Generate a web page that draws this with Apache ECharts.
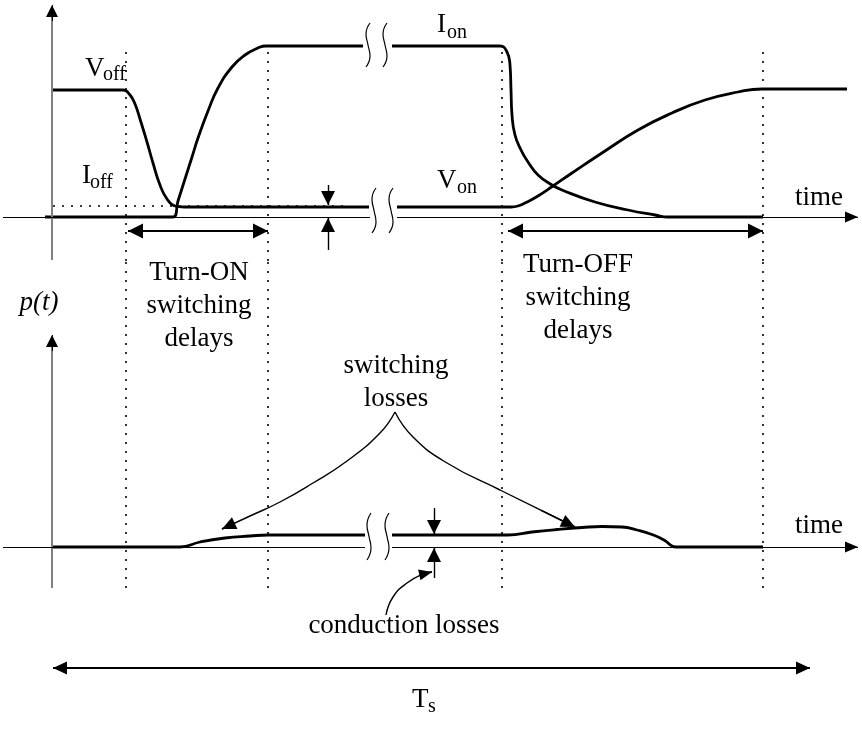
<!DOCTYPE html>
<html>
<head>
<meta charset="utf-8">
<title>Switching and conduction losses</title>
<script src="https://cdn.jsdelivr.net/npm/echarts@6/dist/echarts.min.js"></script>
<style>
html, body { margin: 0; padding: 0; background: #fff; }
#chart { width: 862px; height: 740px; }
</style>
</head>
<body>
<div id="chart"></div>
<script>
// time axis in arbitrary units, signals in arbitrary units
// switch voltage v(t), split at the time-axis break
var vSeg1 = [[0.1, 12.7], [7.1, 12.7], [7.8, 12.2], [8.3, 11.3], [8.8, 9.8], [9.5, 7.5], [10.1, 5.4], [10.8, 3.2], [11.5, 1.8], [12.3, 1.1], [13.2, 1.0], [31.7, 1.0]];
var vSeg2 = [[34.5, 1.0], [45.9, 1.0], [46.6, 1.1], [47.4, 1.45], [48.6, 2.1], [50.1, 3.1], [52, 4.4], [55.3, 6.6], [58.6, 8.7], [62, 10.4], [65.3, 11.7], [68.6, 12.5], [71, 12.8], [79.5, 12.8]];
// switch current i(t)
var iSeg1 = [[-0.7, 0], [12.1, 0], [12.6, 1.6], [13.3, 3.8], [14, 6.0], [14.6, 7.9], [15.6, 10.6], [16.6, 12.9], [18, 15.0], [19.3, 16.2], [20.6, 16.9], [21.4, 17.1], [31.1, 17.1]];
var iSeg2 = [[34, 17.1], [44.8, 17.1], [45.5, 16.5], [45.8, 15.2], [45.9, 12.7], [46, 10.2], [46.3, 8.2], [46.9, 6.7], [47.6, 5.5], [48.6, 4.2], [50, 3.2], [51, 2.7], [54.3, 1.5], [57.6, 0.7], [60.3, 0.2], [61.6, 0], [71.1, 0]];
// power p(t)
var pSeg1 = [[0, 0], [12.8, 0], [14.8, 0.5], [17.3, 0.9], [19.8, 1.1], [21.6, 1.2], [31.3, 1.2]];
var pSeg2 = [[34, 1.2], [45.6, 1.2], [48, 1.5], [50.5, 1.75], [53, 1.95], [55, 2.05], [57, 2.0], [58.5, 1.7], [60, 1.25], [61.2, 0.7], [62, 0.1], [62.4, 0], [71.1, 0]];

// axis break strokes
var breakIonA = [[31.8, 19.4], [31.4, 18.3], [31.6, 17.2], [31.8, 16.1], [31.4, 15.0]];
var breakIonB = [[33.5, 19.4], [33.1, 18.3], [33.3, 17.2], [33.5, 16.1], [33.1, 15.0]];
var breakAxA = [[32.4, 2.9], [32.0, 1.8], [32.2, 0.65], [32.4, -0.5], [32.0, -1.6]];
var breakAxB = [[34.1, 2.9], [33.7, 1.8], [33.9, 0.65], [34.1, -0.5], [33.7, -1.6]];
var breakPA = [[31.9, 3.4], [31.5, 2.2], [31.7, 1.05], [31.9, -0.1], [31.5, -1.3]];
var breakPB = [[33.7, 3.4], [33.3, 2.2], [33.5, 1.05], [33.7, -0.1], [33.3, -1.3]];

// annotation leaders in the p(t) panel
var braceLeft = [[34.3, 13.5], [32.8, 11.4], [29.5, 8.6], [26.1, 6.4], [22.8, 4.5], [19.8, 3.1], [17.0, 1.8]];
var braceRight = [[34.3, 13.5], [36.1, 11.0], [39.5, 8.4], [44.8, 5.7], [52.3, 2.0]];
var condLeader = [[33.4, -6.8], [34.1, -5.0], [35.5, -3.6], [37.1, -2.7], [38.0, -2.5]];

// switching instants (dotted guides)
var edgeTimes = [7.4, 21.6, 45, 71.1];
var vOnLevel = 1.1;
var vOnRefSpan = [0.1, 29.6];
var turnOnSpan = [7.6, 21.6];
var turnOffSpan = [45.6, 71.1];
var delayY = -1.4;
var periodSpan = [0.1, 75.8];
var periodY = -12.1;

var SERIF = '"Liberation Serif", "Times New Roman", serif';
var INK = '#000';

function curve(data, gi, width, smooth) {
  return {
    type: 'line', xAxisIndex: gi, yAxisIndex: gi, data: data,
    smooth: smooth == null ? 0.5 : smooth, symbol: 'none', silent: true, animation: false,
    lineStyle: { color: INK, width: width || 2.8 }, z: 3
  };
}

function line(from, to, style, head0, head1, size) {
  size = size || [14, 14];
  return [
    { coord: from, symbol: head0 ? 'triangle' : 'none', symbolSize: size, symbolOffset: [0, '50%'], lineStyle: style },
    { coord: to, symbol: head1 ? 'triangle' : 'none', symbolSize: size, symbolOffset: [0, '50%'] }
  ];
}

// arrowhead placed at the last point of a leader, pointing along its last step
function headAt(pts, size) {
  var a = pts[pts.length - 2], b = pts[pts.length - 1];
  var from = [b[0] - (b[0] - a[0]) * 0.45, b[1] - (b[1] - a[1]) * 0.45];
  return line(from, b, { type: 'solid', color: INK, width: 1.4 }, false, true, size);
}

function marks(gi, items) {
  return {
    type: 'line', xAxisIndex: gi, yAxisIndex: gi, data: [], silent: true,
    markLine: {
      silent: true, animation: false, precision: 6,
      symbol: ['none', 'none'],
      label: { show: false },
      emphasis: { disabled: true },
      lineStyle: { type: 'solid', color: INK, width: 1 },
      data: items
    }
  };
}

var thin = { type: 'solid', color: INK, width: 1 };
var gray = { type: 'solid', color: '#808080', width: 2 };
var dots = { type: [2, 7], color: INK, width: 1.6 };
var arrowLn = { type: 'solid', color: INK, width: 2 };
var noteLn = { type: 'solid', color: INK, width: 1.4 };

var upperMarks = [
  line([0, -4.3], [0, 20.2], gray),
  line([0, 19.6], [0, 21.2], thin, false, true, [12, 12]),
  line([-4.9, 0], [31.8, 0], thin),
  line([34.5, 0], [80.6, 0], thin, false, true, [11, 13]),
  line([vOnRefSpan[0], vOnLevel], [vOnRefSpan[1], vOnLevel], dots),
  line([turnOnSpan[0], delayY], [turnOnSpan[1], delayY], arrowLn, true, true, [15, 15]),
  line([turnOffSpan[0], delayY], [turnOffSpan[1], delayY], arrowLn, true, true, [15, 15]),
  line([27.6, 3.2], [27.6, 1.2], noteLn, false, true, [14, 14]),
  line([27.6, -3.3], [27.6, -0.1], noteLn, false, true, [14, 14])
];
edgeTimes.forEach(function (t) { upperMarks.push(line([t, 16.5], [t, -4.5], dots)); });

var lowerMarks = [
  line([0, -4.1], [0, 20.2], gray),
  line([0, 19.6], [0, 21.2], thin, false, true, [12, 12]),
  line([-4.9, 0], [31.3, 0], thin),
  line([34, 0], [80.6, 0], thin, false, true, [11, 13]),
  line([38.2, 3.9], [38.2, 1.3], noteLn, false, true, [14, 14]),
  line([38.2, -3.1], [38.2, -0.1], noteLn, false, true, [14, 14]),
  headAt(braceLeft, [13, 14]),
  headAt(braceRight, [13, 14]),
  headAt(condLeader, [11, 13]),
  line([periodSpan[0], periodY], [periodSpan[1], periodY], arrowLn, true, true, [13, 14])
];
edgeTimes.forEach(function (t) { lowerMarks.push(line([t, 28.5], [t, -4.3], dots)); });

function txt(x, y, s, size, extra) {
  var st = {
    text: s, fill: INK, fontFamily: SERIF, fontSize: size,
    align: 'left', verticalAlign: 'middle'
  };
  for (var k in extra) st[k] = extra[k];
  return { type: 'text', x: x, y: y, silent: true, z: 10, style: st };
}

var BIG = 27, SUB = 20;
var labels = [
  txt(85, 69, 'V', BIG), txt(103, 75, 'off', SUB),
  txt(82, 176, 'I', BIG), txt(90, 183, 'off', SUB),
  txt(437, 25, 'I', BIG), txt(447, 33, 'on', SUB),
  txt(437, 181, 'V', BIG), txt(457, 188, 'on', SUB),
  txt(795, 198, 'time', BIG),
  txt(795, 526, 'time', BIG),
  txt(199, 306, 'Turn-ON\nswitching\ndelays', BIG, { align: 'center', lineHeight: 33 }),
  txt(578, 298, 'Turn-OFF\nswitching\ndelays', BIG, { align: 'center', lineHeight: 33 }),
  txt(396, 382, 'switching\nlosses', BIG, { align: 'center', lineHeight: 33 }),
  txt(39, 303, 'p(t)', BIG, { align: 'center', fontStyle: 'italic' }),
  txt(404, 626, 'conduction losses', BIG, { align: 'center' }),
  txt(412, 700, 'T', BIG), txt(428, 707, 's', SUB)
];

var chart = echarts.init(document.getElementById('chart'), null, { renderer: 'canvas' });
chart.setOption({
  backgroundColor: '#fff',
  animation: false,
  grid: [
    { left: 2, top: 0, width: 860, height: 262 },
    { left: 2, top: 262, width: 860, height: 478 }
  ],
  xAxis: [
    { gridIndex: 0, type: 'value', min: -5, max: 81, show: false },
    { gridIndex: 1, type: 'value', min: -5, max: 81, show: false }
  ],
  yAxis: [
    { gridIndex: 0, type: 'value', min: -4.5, max: 21.7, show: false },
    { gridIndex: 1, type: 'value', min: -19.3, max: 28.5, show: false }
  ],
  series: [
    marks(0, upperMarks),
    marks(1, lowerMarks),
    curve(vSeg1, 0), curve(vSeg2, 0),
    curve(iSeg1, 0), curve(iSeg2, 0),
    curve(pSeg1, 1), curve(pSeg2, 1),
    curve(breakIonA, 0, 1.2), curve(breakIonB, 0, 1.2),
    curve(breakAxA, 0, 1.2), curve(breakAxB, 0, 1.2),
    curve(breakPA, 1, 1.2), curve(breakPB, 1, 1.2),
    curve(braceLeft, 1, 1.4), curve(braceRight, 1, 1.4), curve(condLeader, 1, 1.4)
  ],
  graphic: labels
});
</script>
</body>
</html>
